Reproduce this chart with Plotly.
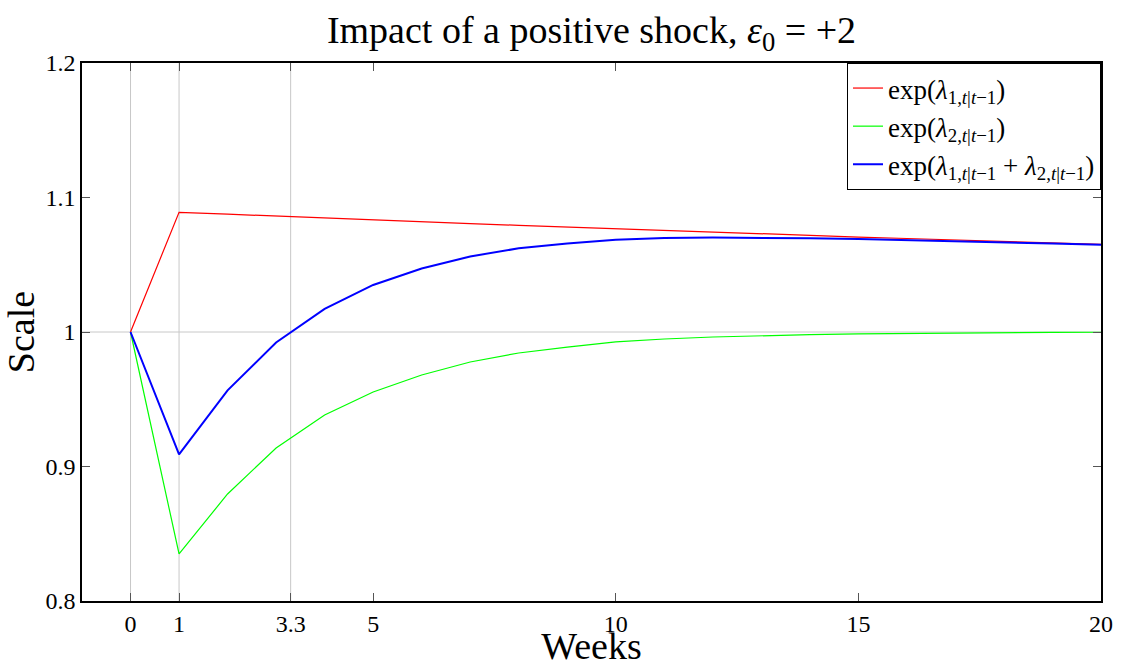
import plotly.graph_objects as go

weeks = list(range(0, 21))
lam1 = [1.0, 1.0890, 1.0876, 1.0861, 1.0847, 1.0833, 1.0820, 1.0806, 1.0793, 1.0780,
        1.0767, 1.0755, 1.0742, 1.0730, 1.0718, 1.0706, 1.0695, 1.0683, 1.0672, 1.0661, 1.0651]
lam2 = [1.0, 0.8350, 0.8796, 0.9138, 0.9383, 0.9554, 0.9680, 0.9777, 0.9844, 0.9888,
        0.9926, 0.9948, 0.9963, 0.9973, 0.9980, 0.9986, 0.9990, 0.9993, 0.9995, 0.9997, 0.9998]
lam12 = [1.0, 0.9090, 0.9566, 0.9922, 1.0172, 1.0350, 1.0472, 1.0562, 1.0622, 1.0658,
         1.0686, 1.0698, 1.0702, 1.0701, 1.0697, 1.0691, 1.0684, 1.0676, 1.0667, 1.0658, 1.0649]

x_ticks = [0, 1, 3.3, 5, 10, 15, 20]
x_tick_text = ["0", "1", "3.3", "5", "10", "15", "20"]
y_ticks = [0.8, 0.9, 1.0, 1.1, 1.2]
y_tick_text = ["0.8", "0.9", "1", "1.1", "1.2"]
x_grid = [0, 1, 3.3]
y_grid = [1.0]

FONT = "Liberation Serif"
s1 = "<sub>1,<i>t</i>|<i>t</i>−1</sub>"
s2 = "<sub>2,<i>t</i>|<i>t</i>−1</sub>"

fig = go.Figure()
fig.add_trace(go.Scatter(x=weeks, y=lam1, mode="lines", line=dict(color="#ff0000", width=1.2),
                         name="exp(<i>λ</i>" + s1 + ")"))
fig.add_trace(go.Scatter(x=weeks, y=lam2, mode="lines", line=dict(color="#00ff00", width=1.2),
                         name="exp(<i>λ</i>" + s2 + ")"))
fig.add_trace(go.Scatter(x=weeks, y=lam12, mode="lines", line=dict(color="#0000ff", width=2),
                         name="exp(<i>λ</i>" + s1 + " + <i>λ</i>" + s2 + ")"))

shapes = []
for gx in x_grid:
    shapes.append(dict(type="line", xref="x", yref="paper", x0=gx, x1=gx, y0=0, y1=1,
                       line=dict(color="#c8c8c8", width=1), layer="below"))
for gy in y_grid:
    shapes.append(dict(type="line", xref="paper", yref="y", x0=0, x1=1, y0=gy, y1=gy,
                       line=dict(color="#c8c8c8", width=1), layer="below"))

fig.update_layout(
    width=1133, height=667,
    margin=dict(l=82, r=32, t=63, b=66),
    paper_bgcolor="white", plot_bgcolor="white",
    font=dict(family=FONT, color="black", size=24),
    title=dict(text="Impact of a positive shock, <i>ε</i><sub>0</sub> = +2",
               x=0.5, xref="paper", xanchor="center", y=0.955, yanchor="middle",
               font=dict(size=38, family=FONT)),
    shapes=shapes,
    showlegend=True,
    legend=dict(x=1, y=1, xanchor="right", yanchor="top", bgcolor="white",
                bordercolor="black", borderwidth=1, font=dict(size=27, family=FONT),
                tracegroupgap=0, itemwidth=30),
    xaxis=dict(range=[-1, 20], tickmode="array", tickvals=x_ticks, ticktext=x_tick_text,
               showgrid=False, zeroline=False, showline=True, linecolor="black", linewidth=1.5,
               mirror="ticks", ticks="inside", ticklen=8, tickcolor="#555", automargin=False,
               title=dict(text="Weeks", font=dict(size=38, family=FONT), standoff=0)),
    yaxis=dict(range=[0.8, 1.2], tickmode="array", tickvals=y_ticks, ticktext=y_tick_text,
               showgrid=False, zeroline=False, showline=True, linecolor="black", linewidth=1.5,
               mirror="ticks", ticks="inside", ticklen=8, tickcolor="#555", automargin=False,
               title=dict(text="Scale", font=dict(size=38, family=FONT), standoff=8)),
)

fig.write_html("out.html")
